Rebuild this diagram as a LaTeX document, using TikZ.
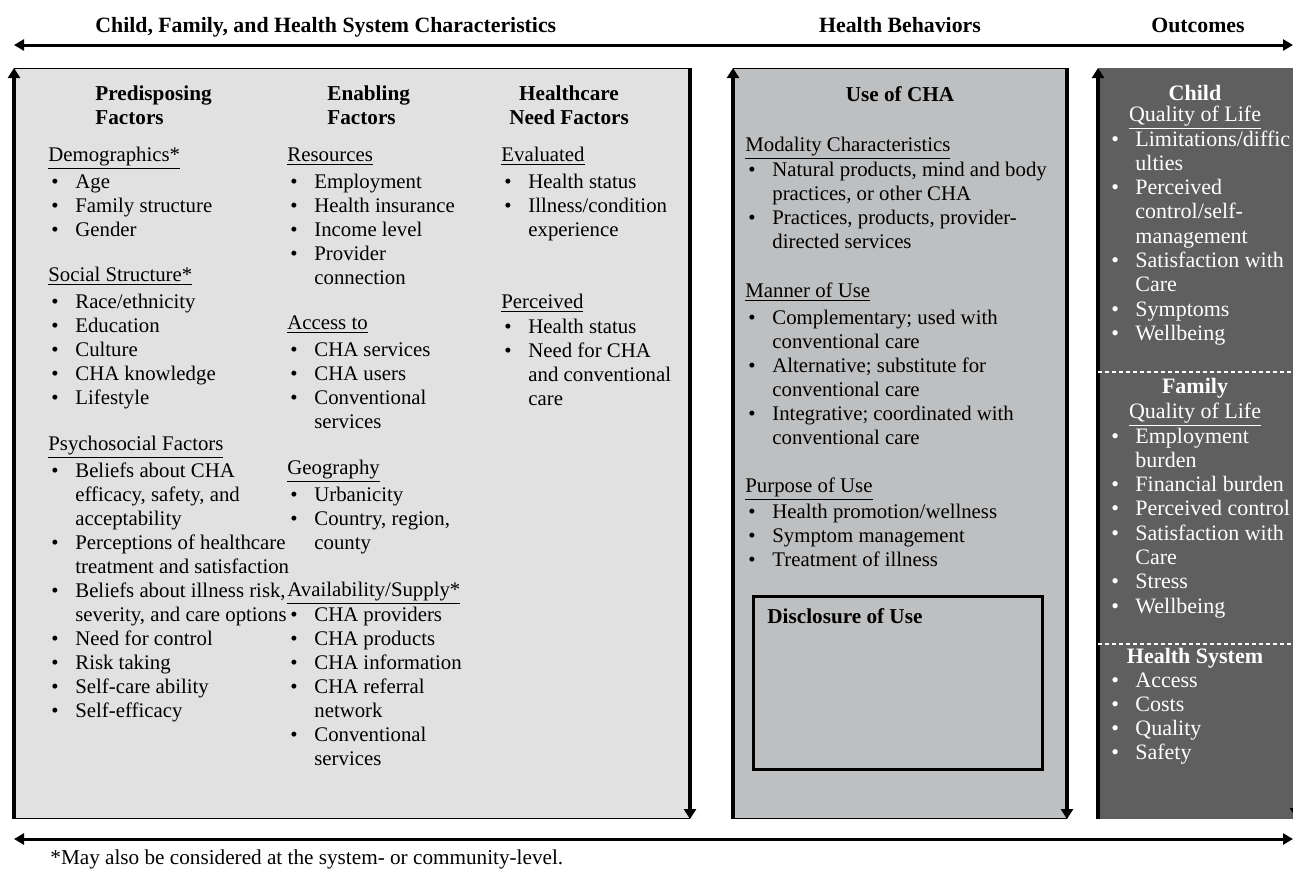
\documentclass[tikz,border=0pt]{standalone}
\usepackage{fontspec}
\setmainfont{Liberation Serif}
\usetikzlibrary{arrows.meta, positioning}
\definecolor{PanelLight}{HTML}{E1E1E1}
\definecolor{PanelMid}{HTML}{BEBFC1}
\definecolor{PanelDark}{HTML}{5F5F5F}
\newcommand{\bul}[1]{\makebox[13.5pt][l]{\hspace{1.5pt}\textbullet}#1}
\newcommand{\cnt}[1]{\hspace*{13.5pt}#1}
\newcommand{\lst}[1]{\begin{tabular}[t]{@{}l@{}}#1\end{tabular}}
\newcommand{\clst}[1]{\begin{tabular}[t]{@{}c@{}}#1\end{tabular}}

\begin{document}
\begin{tikzpicture}[x=0.5pt, y=-0.5pt, every node/.style={inner sep=0pt},
    panel/.style={draw, line width=0.5pt, anchor=north west, minimum height=375pt},
    sidearrow/.style={-{Triangle[length=5pt, width=6pt]}, line width=1.6pt},
    rangearrow/.style={{Triangle[length=5pt, width=5.5pt]}-{Triangle[length=5pt, width=5.5pt]}, line width=1.5pt},
    body/.style={anchor=base west, font=\fontsize{10.4}{12}\selectfont},
    head/.style={anchor=base west, font=\fontsize{10.6}{12}\selectfont\bfseries},
    toptitle/.style={anchor=base, font=\fontsize{10.9}{12}\selectfont\bfseries},
    outtext/.style={anchor=base west, text=white, font=\fontsize{11}{12.15}\selectfont},
    outhead/.style={anchor=base, text=white, font=\fontsize{11}{12}\selectfont}]
  \useasboundingbox (0,0) rectangle (1293,873);

  % column titles and range arrows
  \node[toptitle, anchor=base west] (chartitle) at (95,32) {Child, Family, and Health System Characteristics};
  \node[toptitle] (behtitle) at (900,32) {Health Behaviors};
  \node[toptitle] (outtitle) at (1198,32) {Outcomes};
  \coordinate (topL) at (14,45);
  \coordinate (topR) at (1293,45);
  \draw[rangearrow] (topL) -- (topR);
  \coordinate (botL) at (14,839);
  \coordinate (botR) at (1293,839);
  \draw[rangearrow] (botL) -- (botR);

  % panels
  \node[panel, fill=PanelLight, minimum width=337.5pt] (charbox) at (14,68) {};
  \node[panel, fill=PanelMid, minimum width=166.5pt] (usebox) at (733,68) {};
  \node[panel, fill=PanelDark, draw=PanelDark, minimum width=99pt] (outbox) at (1098,68) {};
  \draw[sidearrow] (charbox.south west) -- (charbox.north west);
  \draw[sidearrow] (charbox.north east) -- (charbox.south east);
  \draw[sidearrow] (usebox.south west) -- (usebox.north west);
  \draw[sidearrow] (usebox.north east) -- (usebox.south east);
  \draw[sidearrow] (outbox.south west) -- (outbox.north west);
  \coordinate (outTR) at (1296,68);
  \coordinate (outBR) at (1296,818);
  \draw[sidearrow] (outTR) -- (outBR);

  % predisposing factors
  \node[head] (predhead) at (95,100) {\lst{Predisposing\\Factors}};
  \node[body] (demog) at (48,161) {\lst{\underline{Demographics*}\\[1.5pt]
    \bul{Age}\\\bul{Family structure}\\\bul{Gender}}};
  \node[body] (social) at (48,281) {\lst{\underline{Social Structure*}\\[1.5pt]
    \bul{Race/ethnicity}\\\bul{Education}\\\bul{Culture}\\\bul{CHA knowledge}\\\bul{Lifestyle}}};
  \node[body] (psycho) at (48,450) {\lst{\underline{Psychosocial Factors}\\[1.5pt]
    \bul{Beliefs about CHA}\\\cnt{efficacy, safety, and}\\\cnt{acceptability}\\
    \bul{Perceptions of healthcare}\\\cnt{treatment and satisfaction}\\
    \bul{Beliefs about illness risk,}\\\cnt{severity, and care options}\\
    \bul{Need for control}\\\bul{Risk taking}\\\bul{Self-care ability}\\\bul{Self-efficacy}}};

  % enabling factors
  \node[head] (enabhead) at (327,100) {\lst{Enabling\\Factors}};
  \node[body] (resour) at (287,161) {\lst{\underline{Resources}\\[1.5pt]
    \bul{Employment}\\\bul{Health insurance}\\\bul{Income level}\\\bul{Provider}\\\cnt{connection}}};
  \node[body] (access) at (287,329) {\lst{\underline{Access to}\\[1.5pt]
    \bul{CHA services}\\\bul{CHA users}\\\bul{Conventional}\\\cnt{services}}};
  \node[body] (geog) at (287,474) {\lst{\underline{Geography}\\[1.5pt]
    \bul{Urbanicity}\\\bul{Country, region,}\\\cnt{county}}};
  \node[body] (supply) at (287,596) {\lst{\underline{Availability/Supply*}\\[0.5pt]
    \bul{CHA providers}\\\bul{CHA products}\\\bul{CHA information}\\\bul{CHA referral}\\\cnt{network}\\
    \bul{Conventional}\\\cnt{services}}};

  % need factors
  \node[head, anchor=base] (needhead) at (569,100) {\clst{Healthcare\\Need Factors}};
  \node[body] (evalu) at (501,161) {\lst{\underline{Evaluated}\\[1.5pt]
    \bul{Health status}\\\bul{Illness/condition}\\\cnt{experience}}};
  \node[body] (percv) at (501,308) {\lst{\underline{Perceived}\\[0.5pt]
    \bul{Health status}\\\bul{Need for CHA}\\\cnt{and conventional}\\\cnt{care}}};

  % use of CHA
  \node[head, anchor=base] (usehead) at (900,101) {Use of CHA};
  \node[body] (modal) at (745,151) {\lst{\underline{Modality Characteristics}\\[0.5pt]
    \bul{Natural products, mind and body}\\\cnt{practices, or other CHA}\\
    \bul{Practices, products, provider-}\\\cnt{directed services}}};
  \node[body] (manner) at (745,297) {\lst{\underline{Manner of Use}\\[1.5pt]
    \bul{Complementary; used with}\\\cnt{conventional care}\\
    \bul{Alternative; substitute for}\\\cnt{conventional care}\\
    \bul{Integrative; coordinated with}\\\cnt{conventional care}}};
  \node[body] (purpose) at (745,492) {\lst{\underline{Purpose of Use}\\[1pt]
    \bul{Health promotion/wellness}\\\bul{Symptom management}\\\bul{Treatment of illness}}};
  \node[draw, line width=1.5pt, anchor=north west, minimum width=144.5pt, minimum height=86.5pt] (disclbox) at (752,595) {};
  \node[head] (discl) at (767,623) {Disclosure of Use};

  % outcomes
  \node[outhead] (childhead) at (1195,100) {\textbf{Child}};
  \node[outhead] (childqol) at (1195,121) {\underline{Quality of Life}};
  \node[outtext] (childlist) at (1108,146) {\lst{\bul{Limitations/diffic}\\\cnt{ulties}\\
    \bul{Perceived}\\\cnt{control/self-}\\\cnt{management}\\
    \bul{Satisfaction with}\\\cnt{Care}\\\bul{Symptoms}\\\bul{Wellbeing}}};
  \coordinate (famL) at (1098,372);
  \coordinate (famR) at (1293,372);
  \draw[white, dashed, line width=0.6pt, dash pattern=on 2pt off 1.5pt] (famL) -- (famR);
  \node[outhead] (famhead) at (1195,393) {\textbf{Family}};
  \node[outhead] (famqol) at (1195,418) {\underline{Quality of Life}};
  \node[outtext] (famlist) at (1108,443) {\lst{\bul{Employment}\\\cnt{burden}\\\bul{Financial burden}\\
    \bul{Perceived control}\\\bul{Satisfaction with}\\\cnt{Care}\\\bul{Stress}\\\bul{Wellbeing}}};
  \coordinate (sysL) at (1098,644);
  \coordinate (sysR) at (1293,644);
  \draw[white, dashed, line width=0.6pt, dash pattern=on 2pt off 1.5pt] (sysL) -- (sysR);
  \node[outhead] (syshead) at (1195,663) {\textbf{Health System}};
  \node[outtext] (syslist) at (1108,687) {\lst{\bul{Access}\\\bul{Costs}\\\bul{Quality}\\\bul{Safety}}};

  % footnote
  \node[body, font=\fontsize{10.6}{12}\selectfont] (fnote) at (50,864) {*May also be considered at the system- or community-level.};
\end{tikzpicture}
\end{document}
